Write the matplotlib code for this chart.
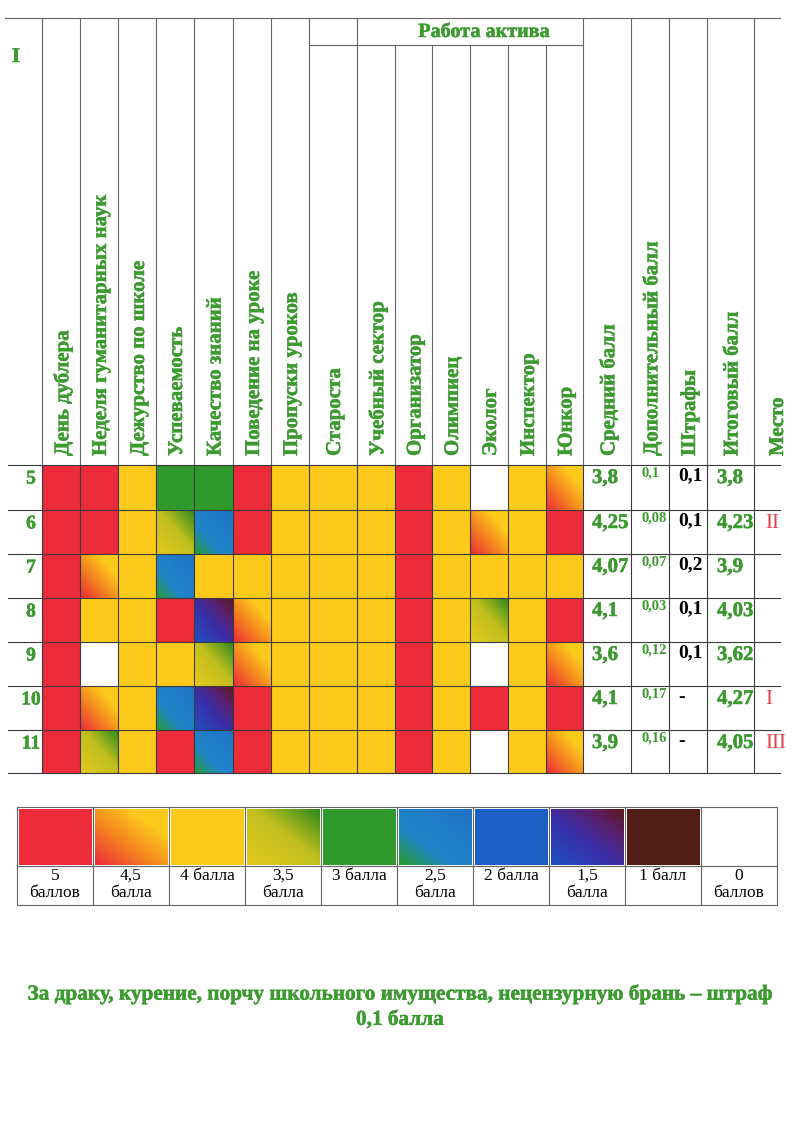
import numpy as np
import matplotlib.pyplot as plt
import matplotlib.patheffects as pe
from matplotlib.patches import Rectangle
from matplotlib.colors import LinearSegmentedColormap

# Criteria (coloured columns) and result columns
criteria = ["День дублера", "Неделя гуманитарных наук", "Дежурство по школе",
            "Успеваемость", "Качество знаний", "Поведение на уроке",
            "Пропуски уроков", "Староста", "Учебный сектор", "Организатор",
            "Олимпиец", "Эколог", "Инспектор", "Юнкор"]
result_cols = ["Средний балл", "Дополнительный балл", "Штрафы",
               "Итоговый балл", "Место"]
classes = ["5", "6", "7", "8", "9", "10", "11"]

# score of each class (row) for each criterion (column)
scores = [
    [5, 5, 4, 3, 3, 5, 4, 4, 4, 5, 4, 0, 4, 4.5],
    [5, 5, 4, 3.5, 2.5, 5, 4, 4, 4, 5, 4, 4.5, 4, 5],
    [5, 4.5, 4, 2.5, 4, 4, 4, 4, 4, 5, 4, 4, 4, 4],
    [5, 4, 4, 5, 1.5, 4.5, 4, 4, 4, 5, 4, 3.5, 4, 5],
    [5, 0, 4, 4, 3.5, 4.5, 4, 4, 4, 5, 4, 0, 4, 4.5],
    [5, 4.5, 4, 2.5, 1.5, 5, 4, 4, 4, 5, 4, 5, 4, 5],
    [5, 3.5, 4, 5, 2.5, 5, 4, 4, 4, 5, 4, 0, 4, 4.5],
]
avg = ["3,8", "4,25", "4,07", "4,1", "3,6", "4,1", "3,9"]
bonus = ["0,1", "0,08", "0,07", "0,03", "0,12", "0,17", "0,16"]
penalty = ["0,1", "0,1", "0,2", "0,1", "0,1", "-", "-"]
total = ["3,8", "4,23", "3,9", "4,03", "3,62", "4,27", "4,05"]
place = ["", "II", "", "", "", "I", "III"]

legend_scores = [5, 4.5, 4, 3.5, 3, 2.5, 2, 1.5, 1, 0]
legend_labels = ["5\nбаллов", "4,5\nбалла", "4 балла", "3,5\nбалла", "3 балла",
                 "2,5\nбалла", "2 балла", "1,5\nбалла", "1 балл", "0\nбаллов"]

note = ("За драку, курение, порчу школьного имущества, нецензурную брань – штраф\n"
        "0,1 балла")

# colours
RED = "#ec2b3b"
YEL = "#fdca1c"
GRN = "#2f992e"
BLU = "#1b5fc2"
BRN = "#4f1c16"
TXT = "#3c9a30"
PLACE = "#e5414c"

solid = {5: RED, 4: YEL, 3: GRN, 2: BLU, 1: BRN, 0: "white"}
grads = {
    4.5: [(0, RED), (0.4, "#f5841f"), (0.75, YEL), (1, YEL)],
    3.5: [(0, "#e6c81e"), (0.55, "#bfbf1e"), (1, "#2f8a1c")],
    2.5: [(0, "#2a9a30"), (0.35, "#1f86c8"), (1, "#1f72c6")],
    1.5: [(0, "#1f50c0"), (0.45, "#3a2ea8"), (0.75, "#5a1f6a"), (1, "#5a1a1a")],
}

# layout (pixels)
col_edges = [42, 80, 118, 156, 194, 233, 271, 309, 357, 395, 432, 470, 508, 546, 583]
res_edges = [583, 631, 669, 707, 754, 800]
row_edges = [465, 510, 554, 598, 642, 686, 730, 773]
TOP, SUB = 18, 45
RIGHT = 780

plt.rcParams["font.family"] = ["Liberation Serif", "DejaVu Serif"]
fig = plt.figure(figsize=(8, 11.3), dpi=100)
ax = fig.add_axes([0, 0, 1, 1])
ax.set_xlim(0, 800)
ax.set_ylim(1130, 0)
ax.axis("off")

N = 40
uu, ww = np.meshgrid(np.linspace(0, 1, N), np.linspace(1, 0, N))
tt = (uu + ww) / 2


def paint(x0, x1, y0, y1, v):
    if v in grads:
        cmap = LinearSegmentedColormap.from_list("g", grads[v])
        ax.imshow(cmap(tt), extent=(x0, x1, y1, y0), origin="upper",
                  interpolation="bilinear", aspect="auto", zorder=1)
    else:
        ax.add_patch(Rectangle((x0, y0), x1 - x0, y1 - y0, facecolor=solid[v],
                               edgecolor="none", zorder=1))


def gtext(x, y, s, size, stroke=0.35, **kw):
    fx = [pe.withStroke(linewidth=stroke, foreground=TXT)] if stroke else None
    ax.text(x, y, s, color=TXT, fontsize=size, fontweight="bold",
            path_effects=fx, **kw)


# coloured cells
for r, row in enumerate(scores):
    for c, v in enumerate(row):
        paint(col_edges[c], col_edges[c + 1], row_edges[r], row_edges[r + 1], v)

# grid lines
lc = "#3a3a3a"
hc = "#666666"
ax.plot([5, RIGHT], [TOP, TOP], color=hc, lw=0.8, zorder=3)
ax.plot([309, 583], [SUB, SUB], color=hc, lw=0.8, zorder=3)
for y in row_edges:
    ax.plot([8, RIGHT], [y, y], color=lc, lw=0.8, zorder=3)
for x in col_edges + res_edges[1:-1]:
    y0 = SUB if 357 < x < 583 else TOP
    ax.plot([x, x], [y0, row_edges[0]], color=hc, lw=0.8, zorder=3)
    ax.plot([x, x], [row_edges[0], row_edges[-1]], color=lc, lw=0.8, zorder=3)

# headers
gtext(16, 57, "I", 15, ha="center", va="center")
gtext(484, 32, "Работа актива", 14.5, ha="center", va="center")
for c, name in enumerate(criteria):
    xc = (col_edges[c] + col_edges[c + 1]) / 2 + 2
    gtext(xc, 456, name, 15, rotation=90, ha="center", va="bottom")
for c, name in enumerate(result_cols):
    xc = (res_edges[c] + res_edges[c + 1]) / 2 + 2 if c < 4 else 778
    gtext(xc, 456, name, 15, rotation=90, ha="center", va="bottom")

# row labels and result values
for r in range(len(classes)):
    yt = row_edges[r] + 13
    gtext(31, yt + 1, classes[r], 14, ha="center", va="center")
    gtext(592, yt, avg[r], 15, va="center")
    gtext(641, yt - 5, bonus[r], 10.5, stroke=0, va="center")
    ax.text(678, yt - 2, penalty[r], color="black", fontsize=14, fontweight="bold",
            va="center")
    gtext(717, yt, total[r], 15, va="center")
    ax.text(765, yt, place[r], color=PLACE, fontsize=15, va="center")

# legend
lx0, lw_, ly0, ly1, ly2 = 17, 76, 807, 866, 905
for i, v in enumerate(legend_scores):
    x0 = lx0 + i * lw_
    paint(x0 + 1.5, x0 + lw_ - 1.5, ly0 + 2, ly1 - 1, v)
    ax.text(x0 + lw_ / 2, ly1 + 2, legend_labels[i], fontsize=12.5, ha="center",
            va="top", linespacing=1.1)
    ax.plot([x0, x0], [ly0, ly2], color=hc, lw=0.8)
lx1 = lx0 + len(legend_scores) * lw_
ax.plot([lx1, lx1], [ly0, ly2], color=hc, lw=0.8)
for y in (ly0, ly1, ly2):
    ax.plot([lx0, lx1], [y, y], color=hc, lw=0.8)

gtext(400, 1007, note, 15.3, ha="center", va="center", linespacing=1.35)

fig.savefig("out.png", dpi=100)
